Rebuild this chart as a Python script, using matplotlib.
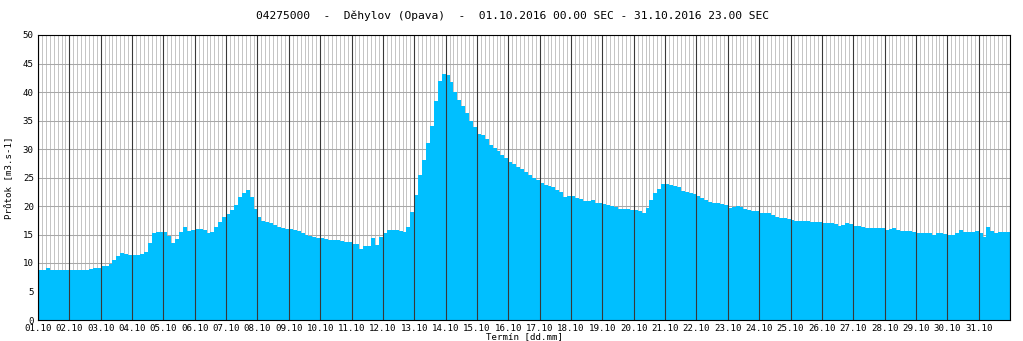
import numpy as np
import matplotlib
matplotlib.use("Agg")
import matplotlib.pyplot as plt

# ---- data: flow [m3/s], 3-hour steps, 8 values per day (01.10 .. 31.10.2016)
flow = [
    8.8, 8.8, 9.2, 8.8, 8.8, 8.8, 8.8, 8.8,          # 01.10
    8.8, 8.8, 8.8, 8.8, 8.8, 9.0, 9.2, 9.2,          # 02.10
    9.4, 9.4, 9.8, 10.5, 11.3, 11.7, 11.5, 11.4,     # 03.10
    11.4, 11.4, 11.5, 12.0, 13.5, 15.3, 15.5, 15.4,  # 04.10
    15.4, 14.8, 13.5, 14.2, 15.5, 16.3, 15.6, 15.8,  # 05.10
    16.0, 16.0, 15.8, 15.3, 15.5, 16.3, 17.2, 18.0,  # 06.10
    18.6, 19.3, 20.2, 21.5, 22.3, 22.8, 21.5, 19.5,  # 07.10
    18.0, 17.3, 17.2, 17.0, 16.6, 16.3, 16.2, 16.0,  # 08.10
    16.0, 15.8, 15.6, 15.3, 15.0, 14.8, 14.6, 14.4,  # 09.10
    14.3, 14.2, 14.1, 14.0, 14.0, 13.8, 13.7, 13.6,  # 10.10
    13.4, 13.3, 12.5, 12.9, 13.0, 14.3, 13.2, 14.5,  # 11.10
    15.2, 15.8, 15.8, 15.8, 15.7, 15.4, 16.3, 19.0,  # 12.10
    22.0, 25.5, 28.0, 31.0, 34.0, 38.5, 42.0, 43.2,  # 13.10
    43.0, 41.8, 40.0, 38.6, 37.5, 36.3, 35.0, 33.8,  # 14.10
    32.6, 32.4, 31.8, 30.7, 30.2, 29.6, 29.0, 28.4,  # 15.10
    27.8, 27.3, 26.8, 26.5, 26.0, 25.4, 25.0, 24.5,  # 16.10
    24.0, 23.6, 23.5, 23.4, 22.8, 22.5, 21.6, 21.8,  # 17.10
    21.8, 21.4, 21.2, 20.9, 20.9, 21.0, 20.6, 20.6,  # 18.10
    20.4, 20.2, 20.0, 19.8, 19.4, 19.5, 19.4, 19.3,  # 19.10
    19.3, 19.2, 18.8, 19.6, 21.0, 22.3, 23.0, 23.8,  # 20.10
    23.8, 23.6, 23.5, 23.3, 22.7, 22.5, 22.3, 22.1,  # 21.10
    21.7, 21.4, 21.0, 20.7, 20.5, 20.5, 20.4, 20.2,  # 22.10
    19.6, 19.8, 20.0, 19.8, 19.5, 19.3, 19.2, 19.1,  # 23.10
    18.8, 18.7, 18.7, 18.5, 18.1, 17.9, 17.9, 17.8,  # 24.10
    17.5, 17.4, 17.4, 17.3, 17.3, 17.2, 17.2, 17.2,  # 25.10
    17.1, 17.0, 17.0, 16.9, 16.5, 16.6, 17.0, 16.8,  # 26.10
    16.5, 16.5, 16.4, 16.2, 16.1, 16.1, 16.1, 16.1,  # 27.10
    15.8, 15.9, 16.1, 15.8, 15.7, 15.7, 15.6, 15.4,  # 28.10
    15.3, 15.3, 15.3, 15.2, 15.0, 15.2, 15.2, 15.1,  # 29.10
    14.9, 14.9, 15.3, 15.8, 15.4, 15.4, 15.5, 15.6,  # 30.10
    15.3, 14.5, 16.3, 15.6, 15.3, 15.4, 15.4, 15.5,  # 31.10
]
day_labels = ["%02d.10" % d for d in range(1, 32)]
y_ticks = [0, 5, 10, 15, 20, 25, 30, 35, 40, 45, 50]
title = "04275000  -  Děhylov (Opava)  -  01.10.2016 00.00 SEC - 31.10.2016 23.00 SEC"

step_h = 3
hours = np.arange(len(flow)) * step_h
n_days = len(day_labels)
total_h = n_days * 24

fig = plt.figure(figsize=(10.23, 3.41), dpi=100)
ax = fig.add_axes([38 / 1023, 1 - 320 / 341, (1010 - 38) / 1023, (320 - 35) / 341])

mono = "DejaVu Sans Mono"

# grid: minor vertical (3 h), horizontal every 5
for h in np.arange(0, total_h + 1, 3):
    ax.axvline(h, color="#c4c4c4", lw=0.7, zorder=1)
for yv in y_ticks:
    ax.axhline(yv, color="#a8a8a8", lw=0.75, zorder=1)

ax.bar(hours, flow, width=step_h, align="edge", color="#00bfff", linewidth=0, zorder=2)

# day lines on top
for d in range(n_days + 1):
    ax.axvline(d * 24, color="#383838", lw=0.8, zorder=3)

ax.set_xlim(0, total_h)
ax.set_ylim(0, 50)
ax.set_xticks(np.arange(n_days) * 24)
ax.set_xticklabels(day_labels, fontfamily=mono, fontsize=6.6)
ax.set_yticks(y_ticks)
ax.set_yticklabels([str(v) for v in y_ticks], fontfamily=mono, fontsize=6.6)
ax.tick_params(length=0, pad=3)
for s in ax.spines.values():
    s.set_color("black")
    s.set_linewidth(0.8)
    s.set_zorder(4)

ax.set_ylabel("Průtok [m3.s-1]", fontfamily=mono, fontsize=6.6, labelpad=6)
ax.set_xlabel("Termín [dd.mm]", fontfamily=mono, fontsize=6.6, labelpad=-1)
fig.text(512 / 1023, 1 - 16 / 341, title, ha="center", va="center",
         fontfamily=mono, fontsize=8.1)

fig.savefig("out.png", dpi=100)
